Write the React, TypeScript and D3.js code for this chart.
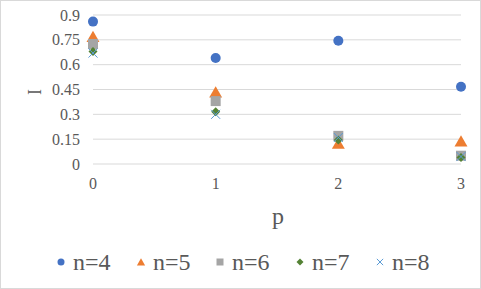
import React from 'react';
import * as d3 from 'd3';

// chart values
const pValues = [0, 1, 2, 3];
const n4 = [0.86, 0.64, 0.745, 0.467];
const n5 = [0.765, 0.43, 0.12, 0.135];
const n6 = [0.725, 0.38, 0.17, 0.05];
const n7 = [0.68, 0.315, 0.145, 0.04];
const n8 = [0.67, 0.3, 0.16, 0.045];
const yTicks = [0, 0.15, 0.3, 0.45, 0.6, 0.75, 0.9];
const seriesNames = ['n=4', 'n=5', 'n=6', 'n=7', 'n=8'];

const colors = ['#4472C4', '#ED7D31', '#A5A5A5', '#548235', '#5B9BD5'];
const shapes = ['circle', 'triangle', 'square', 'diamond', 'cross'];

const width = 481;
const height = 289;
const font = "'Liberation Serif', 'Times New Roman', 'DejaVu Serif', serif";

const Marker = ({ shape, color, x, y, s }: { shape: string; color: string; x: number; y: number; s: number }) => {
  if (shape === 'cross') {
    const h = s * 0.45;
    return (
      <path
        d={`M${x - h},${y - h}L${x + h},${y + h}M${x - h},${y + h}L${x + h},${y - h}`}
        stroke={color}
        strokeWidth={1}
        fill="none"
      />
    );
  }
  if (shape === 'circle') return <circle cx={x} cy={y} r={s / 2} fill={color} />;
  if (shape === 'square') return <rect x={x - s / 2} y={y - s / 2} width={s} height={s} fill={color} />;
  if (shape === 'diamond') {
    const h = s * 0.5;
    return <path d={`M${x},${y - h}L${x + h},${y}L${x},${y + h}L${x - h},${y}Z`} fill={color} />;
  }
  // triangle
  const path = d3.symbol().type(d3.symbolTriangle).size(s * s * 0.6)();
  return <path d={path || ''} transform={`translate(${x},${y + 1})`} fill={color} />;
};

export default function App() {
  const x = d3.scaleLinear().domain([0, 3]).range([93, 461]);
  const y = d3.scaleLinear().domain([0, 0.9]).range([164, 15]);
  const series = [n4, n5, n6, n7, n8];
  const sizes = [10, 11, 10, 9, 10];

  const legendX = [61, 141, 220, 300, 380];
  const txt = { fontFamily: font, fill: '#595959' };

  return (
    <svg
      width={width}
      height={height}
      style={{ position: 'absolute', left: 0, top: 0, background: '#fff', fontFamily: font }}
    >
      <rect x={0.5} y={0.5} width={width - 1} height={height - 1} fill="#fff" stroke="#d9d9d9" />

      {yTicks.map((t) => (
        <g key={t}>
          <line x1={x(0)} x2={x(3)} y1={y(t)} y2={y(t)} stroke="#d9d9d9" strokeWidth={1} />
          <text x={80} y={y(t)} dy="0.35em" textAnchor="end" fontSize={16} style={txt}>
            {t}
          </text>
        </g>
      ))}

      {pValues.map((p) => (
        <text key={p} x={x(p)} y={183} dy="0.35em" textAnchor="middle" fontSize={16} style={txt}>
          {p}
        </text>
      ))}

      <g transform="translate(35,92) rotate(-90)">
        <text x={0} y={0} textAnchor="middle" dy="0.35em" fontSize={18} style={txt}>
          I
        </text>
      </g>
      <text x={278} y={216} dy="0.35em" textAnchor="middle" fontSize={24} style={txt}>
        p
      </text>

      {series.map((vals, i) => (
        <g key={seriesNames[i]}>
          {vals.map((v, j) => (
            <Marker key={j} shape={shapes[i]} color={colors[i]} x={x(pValues[j])} y={y(v)} s={sizes[i]} />
          ))}
        </g>
      ))}

      {seriesNames.map((name, i) => (
        <g key={name}>
          <Marker shape={shapes[i]} color={colors[i]} x={legendX[i]} y={262} s={7} />
          <text x={legendX[i] + 12} y={262} dy="0.35em" fontSize={24} style={txt}>
            {name}
          </text>
        </g>
      ))}
    </svg>
  );
}
